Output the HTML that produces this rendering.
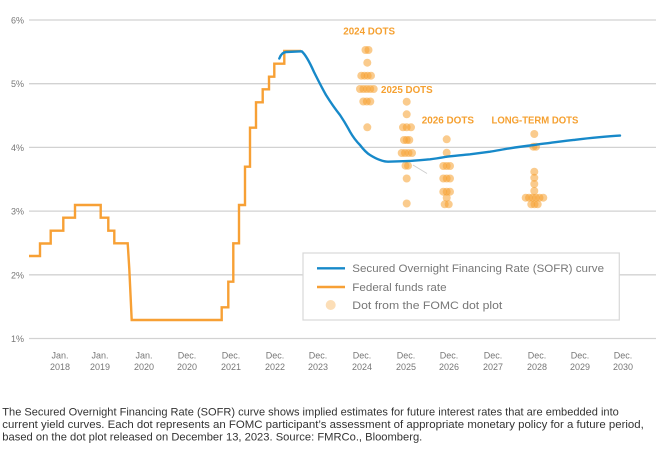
<!DOCTYPE html>
<html><head><meta charset="utf-8"><style>
html,body{margin:0;padding:0;background:#fff;}
svg{display:block;}
text{font-family:"Liberation Sans",Arial,sans-serif;}
</style></head><body>
<svg width="661" height="459" viewBox="0 0 661 459" xmlns="http://www.w3.org/2000/svg">
<rect width="661" height="459" fill="#fff"/>
<!-- gridlines -->
<g stroke="#d2d2d2" stroke-width="1.3">
<line x1="29" y1="20" x2="656" y2="20"/>
<line x1="29" y1="83.7" x2="656" y2="83.7"/>
<line x1="29" y1="147.4" x2="656" y2="147.4"/>
<line x1="29" y1="211.1" x2="656" y2="211.1"/>
<line x1="29" y1="274.8" x2="656" y2="274.8"/>
<line x1="29" y1="338.5" x2="656" y2="338.5"/>
</g>
<!-- y labels -->
<g fill="#777" font-size="9" text-anchor="end">
<text x="24" y="23.5">6%</text>
<text x="24" y="87.2">5%</text>
<text x="24" y="150.9">4%</text>
<text x="24" y="214.6">3%</text>
<text x="24" y="278.3">2%</text>
<text x="24" y="342">1%</text>
</g>
<!-- x labels -->
<g fill="#777" font-size="9" text-anchor="middle">
<text x="60" y="358.3">Jan.</text><text x="60" y="370">2018</text>
<text x="100" y="358.3">Jan.</text><text x="100" y="370">2019</text>
<text x="144" y="358.3">Jan.</text><text x="144" y="370">2020</text>
<text x="187" y="358.3">Dec.</text><text x="187" y="370">2020</text>
<text x="231" y="358.3">Dec.</text><text x="231" y="370">2021</text>
<text x="275" y="358.3">Dec.</text><text x="275" y="370">2022</text>
<text x="318" y="358.3">Dec.</text><text x="318" y="370">2023</text>
<text x="362" y="358.3">Dec.</text><text x="362" y="370">2024</text>
<text x="406" y="358.3">Dec.</text><text x="406" y="370">2025</text>
<text x="449" y="358.3">Dec.</text><text x="449" y="370">2026</text>
<text x="493" y="358.3">Dec.</text><text x="493" y="370">2027</text>
<text x="537" y="358.3">Dec.</text><text x="537" y="370">2028</text>
<text x="580" y="358.3">Dec.</text><text x="580" y="370">2029</text>
<text x="623" y="358.3">Dec.</text><text x="623" y="370">2030</text>
</g>
<!-- faint leader line -->
<line x1="413" y1="165" x2="427" y2="173.5" stroke="#ccc" stroke-width="0.8"/>
<!-- dots -->
<g fill="#F5A030" fill-opacity="0.55">
<!-- 2024 -->
<circle cx="365.5" cy="50" r="4"/><circle cx="368.5" cy="50" r="4"/>
<circle cx="367.3" cy="62.7" r="4"/>
<circle cx="361.3" cy="75.7" r="4"/><circle cx="364.5" cy="75.7" r="4"/><circle cx="367.7" cy="75.7" r="4"/><circle cx="371" cy="75.7" r="4"/>
<circle cx="360" cy="89" r="4"/><circle cx="363.4" cy="89" r="4"/><circle cx="366.8" cy="89" r="4"/><circle cx="370.2" cy="89" r="4"/><circle cx="373.7" cy="89" r="4"/>
<circle cx="363.3" cy="101.5" r="4"/><circle cx="366.8" cy="101.5" r="4"/><circle cx="370.3" cy="101.5" r="4"/>
<circle cx="367.3" cy="127.3" r="4"/>
<!-- 2025 -->
<circle cx="406.7" cy="101.7" r="4"/>
<circle cx="406.7" cy="114.3" r="4"/>
<circle cx="403" cy="127.3" r="4"/><circle cx="406.7" cy="127.3" r="4"/><circle cx="411" cy="127.3" r="4"/>
<circle cx="404" cy="140" r="4"/><circle cx="406.7" cy="140" r="4"/><circle cx="409.3" cy="140" r="4"/>
<circle cx="401.7" cy="153" r="4"/><circle cx="405" cy="153" r="4"/><circle cx="408.5" cy="153" r="4"/><circle cx="412" cy="153" r="4"/>
<circle cx="405.5" cy="165.7" r="4"/><circle cx="408" cy="165.7" r="4"/>
<circle cx="406.7" cy="178.5" r="4"/>
<circle cx="406.7" cy="203.5" r="4"/>
<!-- 2026 -->
<circle cx="446.7" cy="139.3" r="4"/>
<circle cx="446.7" cy="152.7" r="4"/>
<circle cx="443.3" cy="166" r="4"/><circle cx="446.7" cy="166" r="4"/><circle cx="450" cy="166" r="4"/>
<circle cx="443.3" cy="178.5" r="4"/><circle cx="446.7" cy="178.5" r="4"/><circle cx="450" cy="178.5" r="4"/>
<circle cx="443.3" cy="191.7" r="4"/><circle cx="446.7" cy="191.7" r="4"/><circle cx="450" cy="191.7" r="4"/>
<circle cx="446.7" cy="197.7" r="4"/>
<circle cx="444.7" cy="204.3" r="4"/><circle cx="448.7" cy="204.3" r="4"/>
<!-- long term -->
<circle cx="534.3" cy="134" r="4"/>
<circle cx="533.3" cy="146.7" r="4"/><circle cx="536" cy="146.7" r="4"/>
<circle cx="534.3" cy="171.7" r="4"/>
<circle cx="534.3" cy="177.8" r="4"/>
<circle cx="534.3" cy="184" r="4"/>
<circle cx="534.3" cy="191" r="4"/>
<circle cx="525.7" cy="197.7" r="4"/><circle cx="529" cy="197.7" r="4"/><circle cx="532.5" cy="197.7" r="4"/><circle cx="536" cy="197.7" r="4"/><circle cx="539.5" cy="197.7" r="4"/><circle cx="543.3" cy="197.7" r="4"/>
<circle cx="531.3" cy="204.3" r="4"/><circle cx="534.5" cy="204.3" r="4"/><circle cx="537.7" cy="204.3" r="4"/>
</g>
<!-- dot labels -->
<g fill="#F5A030" font-size="10" font-weight="bold">
<text x="343.3" y="34.6" textLength="51.7" lengthAdjust="spacingAndGlyphs">2024 DOTS</text>
<text x="381" y="92.8" textLength="51.7" lengthAdjust="spacingAndGlyphs">2025 DOTS</text>
<text x="421.7" y="123.6" textLength="52.3" lengthAdjust="spacingAndGlyphs">2026 DOTS</text>
<text x="491.5" y="123.6" textLength="86.8" lengthAdjust="spacingAndGlyphs">LONG-TERM DOTS</text>
</g>
<!-- federal funds -->
<path d="M29,256 H40 V243.5 H50.7 V230.7 H63.3 V217.7 H75 V205 H100.7 V217.7 H108.3 V230.7 H114.3 V243.3 H127.7 L129.3,269 L131.7,320 H221.7 V307.3 H228.3 V281.7 H233.3 V243.3 H239 V205 H245 V166.7 H250 V127.7 H256 V102.3 H262.7 V89.3 H269 V76.7 H274.3 V63.7 H284.3 V51 H301" fill="none" stroke="#F7A035" stroke-width="2.4" stroke-linejoin="miter"/>
<!-- SOFR -->
<path d="M279.3,58.5 C281,54 283,52.2 286,52 L301.7,51.3 C306,55 310,63 314,72 C318,80 322,88 326,95 C331,103 336,110 340,115 C344,121 347,126 350,131.7 C353,137 356,141 360,145 C363,149 366,152.5 370,155 C374,157.5 377,159 380,160 C383,161 385,161.6 388,161.7 L407,161.1 C415,160.7 422,160 430,159.3 C436,158.6 441,157.7 446.7,156.7 C455,155.6 463,155 470,154.3 C477,153.4 484,152.5 490,151.7 C497,150.6 503,149.4 510,148.3 C518,147 526,146 534.3,145 C540,144 546,143.5 552,142.6 C560,141.5 568,140.6 575,139.8 C583,138.8 590,138 598,137.3 C606,136.6 613,136 620,135.6" fill="none" stroke="#1789C9" stroke-width="2.4" stroke-linecap="round"/>
<!-- legend -->
<rect x="303" y="253" width="316.3" height="67" fill="#fff" stroke="#d8d8d8" stroke-width="1.2"/>
<line x1="317" y1="268.3" x2="345" y2="268.3" stroke="#1789C9" stroke-width="2.4"/>
<line x1="317" y1="287" x2="345" y2="287" stroke="#F7A035" stroke-width="2.4"/>
<circle cx="330.7" cy="305" r="5" fill="#F5A030" fill-opacity="0.35"/>
<g fill="#777" font-size="11">
<text x="352.3" y="272.2" textLength="251.7" lengthAdjust="spacingAndGlyphs">Secured Overnight Financing Rate (SOFR) curve</text>
<text x="352.3" y="290.9" textLength="94.3" lengthAdjust="spacingAndGlyphs">Federal funds rate</text>
<text x="352.3" y="308.9" textLength="150" lengthAdjust="spacingAndGlyphs">Dot from the FOMC dot plot</text>
</g>
<!-- caption -->
<g fill="#333" font-size="11">
<text x="2.3" y="415.5" textLength="616.5" lengthAdjust="spacingAndGlyphs">The Secured Overnight Financing Rate (SOFR) curve shows implied estimates for future interest rates that are embedded into</text>
<text x="2.3" y="428" textLength="641.5" lengthAdjust="spacingAndGlyphs">current yield curves. Each dot represents an FOMC participant’s assessment of appropriate monetary policy for a future period,</text>
<text x="2.3" y="440.5" textLength="420" lengthAdjust="spacingAndGlyphs">based on the dot plot released on December 13, 2023. Source: FMRCo., Bloomberg.</text>
</g>
</svg>
</body></html>
